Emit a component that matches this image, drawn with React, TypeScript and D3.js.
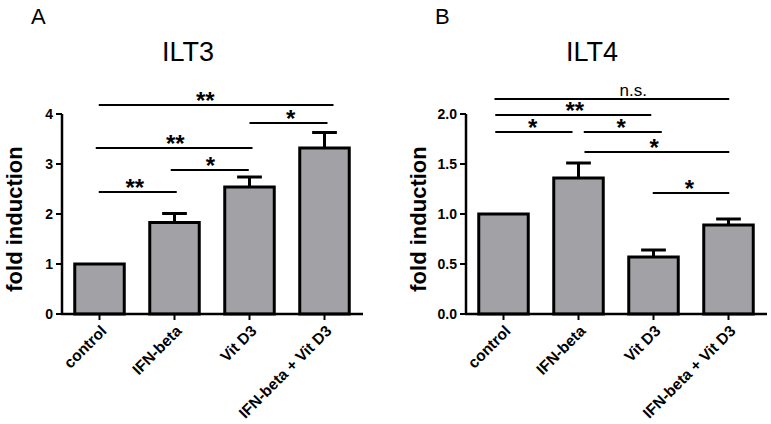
import React from 'react';
import * as d3 from 'd3';

const categories = ["control", "IFN-beta", "Vit D3", "IFN-beta + Vit D3"];

const ilt3Mean = [1.0, 1.83, 2.54, 3.32];
const ilt3Sem = [0, 0.18, 0.2, 0.31];
const ilt3Ticks = [0, 1, 2, 3, 4];

const ilt4Mean = [1.0, 1.36, 0.57, 0.89];
const ilt4Sem = [0, 0.15, 0.07, 0.06];
const ilt4Ticks = [0, 0.5, 1.0, 1.5, 2.0];

// brackets: from / to in category index, level in y units, label position in category index
const ilt3Sig = [
    { from: -0.01, to: 3.12, level: 4.18, label: "**", at: 1.41 },
    { from: 2.0, to: 3.04, level: 3.82, label: "*", at: 2.55 },
    { from: -0.05, to: 2.04, level: 3.32, label: "**", at: 1.01 },
    { from: 0.95, to: 1.99, level: 2.88, label: "*", at: 1.48 },
    { from: -0.01, to: 1.03, level: 2.44, label: "**", at: 0.47 },
];

const ilt4Sig = [
    { from: -0.12, to: 3.01, level: 2.15, label: "n.s.", at: 1.73 },
    { from: -0.11, to: 1.97, level: 1.99, label: "**", at: 0.95 },
    { from: -0.11, to: 0.92, level: 1.82, label: "*", at: 0.39 },
    { from: 1.07, to: 2.11, level: 1.82, label: "*", at: 1.57 },
    { from: 1.08, to: 3.01, level: 1.62, label: "*", at: 2.01 },
    { from: 1.99, to: 3.01, level: 1.21, label: "*", at: 2.48 },
];

const FONT = "'Liberation Sans', Arial, sans-serif";

const Panel = ({ letter, title, means, sems, ticks, sig, left, tickFmt }) => {
    const top = 114;
    const bottom = 314;
    const axisX = left;
    const x = d3.scaleBand()
        .domain(categories)
        .range([axisX, axisX + 300])
        .paddingInner(0.34)
        .paddingOuter(0.17);
    const bw = x.bandwidth();
    const y = d3.scaleLinear().domain([0, ticks[ticks.length - 1]]).range([bottom, top]);
    const idx = d3.scaleLinear()
        .domain([0, categories.length - 1])
        .range([x(categories[0]) + bw / 2, x(categories[categories.length - 1]) + bw / 2]);
    const mid = axisX + 150;

    return (
        <g fontFamily={FONT}>
            <text x={axisX - 31} y={24} fontSize={22}>{letter}</text>
            <text x={mid - 24} y={61} fontSize={27} textAnchor="middle">{title}</text>
            <text transform={`translate(${axisX - 40},${219}) rotate(-90)`} textAnchor="middle"
                fontSize={22} fontWeight="bold">fold induction</text>

            {means.map((m, i) => {
                const c = x(categories[i]) + bw / 2;
                return (
                    <g key={i}>
                        {sems[i] > 0 && (
                            <g stroke="#000" strokeWidth={3}>
                                <line x1={c} x2={c} y1={y(m)} y2={y(m + sems[i])} />
                                <line x1={c - bw / 4} x2={c + bw / 4} y1={y(m + sems[i])} y2={y(m + sems[i])} />
                            </g>
                        )}
                        <rect x={x(categories[i])} y={y(m)} width={bw} height={y(0) - y(m)}
                            fill="#a2a1a6" stroke="#000" strokeWidth={3} />
                    </g>
                );
            })}

            {/* axes */}
            <line x1={axisX} x2={axisX} y1={y(0)} y2={y(ticks[ticks.length - 1])} stroke="#000" strokeWidth={2.5} />
            <line x1={axisX - 1} x2={axisX + 301} y1={y(0)} y2={y(0)} stroke="#000" strokeWidth={2.5} />
            {ticks.map(t => (
                <g key={t}>
                    <line x1={axisX - 6} x2={axisX} y1={y(t)} y2={y(t)} stroke="#000" strokeWidth={2} />
                    <text x={axisX - 9} y={y(t) + 5} textAnchor="end" fontSize={14} fontWeight="bold">{tickFmt(t)}</text>
                </g>
            ))}
            {categories.map(c => {
                const cx = x(c) + bw / 2;
                return (
                    <g key={c}>
                        <line x1={cx} x2={cx} y1={y(0)} y2={y(0) + 6} stroke="#000" strokeWidth={2} />
                        <text transform={`translate(${cx + 8},${y(0) + 18}) rotate(-45)`} textAnchor="end"
                            fontSize={15.5} fontWeight="bold">{c}</text>
                    </g>
                );
            })}

            {sig.map((s, i) => (
                <g key={i}>
                    <line x1={idx(s.from)} x2={idx(s.to)} y1={y(s.level)} y2={y(s.level)} stroke="#000" strokeWidth={2} />
                    {s.label === "n.s." ? (
                        <text x={idx(s.at)} y={y(s.level) - 3} textAnchor="middle" fontSize={17}>{s.label}</text>
                    ) : (
                        <text x={idx(s.at)} y={y(s.level) + 4} textAnchor="middle" fontSize={24}
                            fontWeight="bold">{s.label}</text>
                    )}
                </g>
            ))}
        </g>
    );
};

export default function App() {
    return (
        <svg width={771} height={424} style={{ position: 'absolute', left: 0, top: 0, background: '#fff' }}>
            <Panel letter="A" title="ILT3" means={ilt3Mean} sems={ilt3Sem} ticks={ilt3Ticks} sig={ilt3Sig}
                left={62} tickFmt={d3.format("d")} />
            <Panel letter="B" title="ILT4" means={ilt4Mean} sems={ilt4Sem} ticks={ilt4Ticks} sig={ilt4Sig}
                left={466} tickFmt={d3.format(".1f")} />
        </svg>
    );
}
